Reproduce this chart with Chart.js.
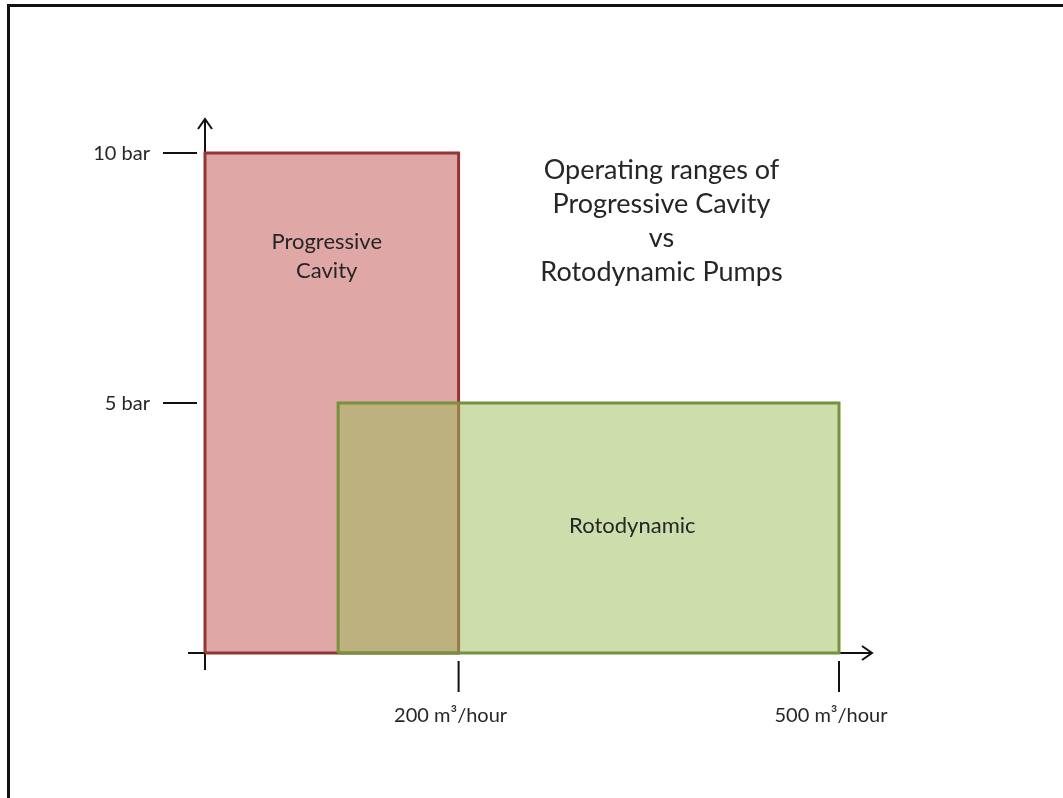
<!DOCTYPE html>
<html>
<head>
<meta charset="utf-8">
<script src="https://cdn.jsdelivr.net/npm/chart.js@4.4.1/dist/chart.umd.min.js"></script>
<style>
  html, body { margin: 0; padding: 0; background: #fff; }
  canvas { display: block; }
</style>
</head>
<body>
<canvas id="ranges" width="1063" height="798"></canvas>
<script>
// flow range (m3/hour) and max pressure (bar) of each pump type
const pcFlow = [0, 200];
const pcPressure = 10;
const rdFlow = [105, 500];
const rdPressure = 5;

// axis ticks
const xTicks = [200, 500];
const xTickLabels = ['200 m\u00b3/hour', '500 m\u00b3/hour'];
const yTicks = [10, 5];
const yTickLabels = ['10 bar', '5 bar'];

const titleLines = ['Operating ranges of', 'Progressive Cavity', 'vs', 'Rotodynamic Pumps'];

const textColor = '#262626';
const font = 'Lato, "Open Sans", sans-serif';

// closed rectangle outline built from a flow range and a pressure
function box(flow, p) {
  return [
    { x: flow[0], y: 0 },
    { x: flow[0], y: p },
    { x: flow[1], y: p },
    { x: flow[1], y: 0 },
    { x: flow[0], y: 0 }
  ];
}

function arrowHead(c, x, y, dir) {
  c.beginPath();
  if (dir === 'up') {
    c.moveTo(x - 7, y + 10); c.lineTo(x, y); c.lineTo(x + 7, y + 10);
  } else {
    c.moveTo(x - 10, y - 7); c.lineTo(x, y); c.lineTo(x - 10, y + 7);
  }
  c.stroke();
}

const drawing = {
  id: 'drawing',
  beforeDraw(chart) {
    const c = chart.ctx;
    c.save();
    c.strokeStyle = '#111';
    c.lineWidth = 3;
    c.strokeRect(8.5, 5.5, 2000, 2000);
    c.restore();
  },
  beforeDatasetsDraw(chart) {
    const c = chart.ctx;
    const x = chart.scales.x, y = chart.scales.y;
    const x0 = x.getPixelForValue(0), y0 = y.getPixelForValue(0);
    c.save();
    c.strokeStyle = '#111';
    c.lineWidth = 2;
    // y axis
    c.beginPath();
    c.moveTo(x0, y0 + 17); c.lineTo(x0, y.top - 33);
    c.stroke();
    arrowHead(c, x0, y.top - 34, 'up');
    // x axis
    c.beginPath();
    c.moveTo(x0 - 17, y0); c.lineTo(x.right + 32, y0);
    c.stroke();
    arrowHead(c, x.right + 33, y0, 'right');

    c.fillStyle = textColor;
    c.font = '20px ' + font;
    c.textBaseline = 'middle';
    c.textAlign = 'right';
    yTicks.forEach((v, i) => {
      const py = y.getPixelForValue(v);
      c.beginPath();
      c.moveTo(x0 - 42, py); c.lineTo(x0 - 8, py);
      c.stroke();
      c.fillText(yTickLabels[i], x0 - 55, py + 1);
    });
    c.textAlign = 'center';
    c.textBaseline = 'alphabetic';
    xTicks.forEach((v, i) => {
      const px = x.getPixelForValue(v);
      c.beginPath();
      c.moveTo(px, y0 + 8); c.lineTo(px, y0 + 39);
      c.stroke();
      c.fillText(xTickLabels[i], px - 8, y0 + 69);
    });
    c.restore();
  },
  afterDatasetsDraw(chart) {
    const c = chart.ctx;
    const x = chart.scales.x, y = chart.scales.y;
    c.save();
    c.fillStyle = textColor;
    c.textAlign = 'center';
    c.textBaseline = 'alphabetic';
    c.font = '27px ' + font;
    titleLines.forEach((t, i) => {
      c.fillText(t, x.getPixelForValue(360), 179 + i * 34);
    });
    c.font = '22px ' + font;
    c.fillText('Progressive', x.getPixelForValue(96), y.getPixelForValue(8.08));
    c.fillText('Cavity', x.getPixelForValue(96), y.getPixelForValue(7.5));
    c.fillText('Rotodynamic', x.getPixelForValue(337), y.getPixelForValue(2.4));
    c.restore();
  }
};

new Chart(document.getElementById('ranges'), {
  type: 'line',
  data: {
    datasets: [
      {
        label: 'Rotodynamic',
        data: box(rdFlow, rdPressure),
        borderColor: '#76923c',
        backgroundColor: 'rgba(155,187,89,0.5)',
        fill: 'shape',
        borderWidth: 3,
        clip: false
      },
      {
        label: 'Progressive Cavity',
        data: box(pcFlow, pcPressure),
        borderColor: '#943634',
        backgroundColor: 'rgba(192,80,77,0.5)',
        fill: 'shape',
        borderWidth: 3,
        clip: false
      }
    ]
  },
  options: {
    responsive: false,
    animation: false,
    layout: { padding: { left: 205, right: 224, top: 153, bottom: 145 } },
    elements: {
      point: { radius: 0, hoverRadius: 0 },
      line: { tension: 0, borderJoinStyle: 'miter' }
    },
    scales: {
      x: { type: 'linear', min: 0, max: 500, display: false },
      y: { min: 0, max: 10, display: false }
    },
    plugins: {
      legend: { display: false },
      tooltip: { enabled: false }
    }
  },
  plugins: [drawing]
});
</script>
</body>
</html>
